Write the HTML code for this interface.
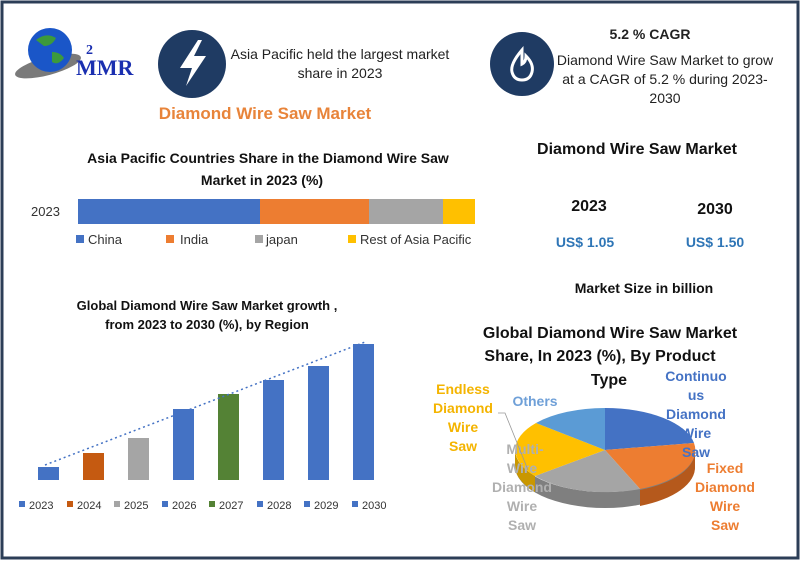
<!DOCTYPE html>
<html><head><meta charset="utf-8"><style>
html,body{margin:0;padding:0;background:#fff}
body{width:800px;height:560px;overflow:hidden;font-family:"Liberation Sans",sans-serif}
</style></head><body>
<svg width="800" height="560" viewBox="0 0 800 560" xmlns="http://www.w3.org/2000/svg" font-family="Liberation Sans, sans-serif">
<rect x="2" y="2" width="796" height="556" fill="#fff" stroke="#2c3e57" stroke-width="3"/>
<!-- logo -->
<ellipse cx="48" cy="66" rx="34" ry="9" fill="#7a7a7a" transform="rotate(-15 48 66)"/>
<circle cx="50" cy="50" r="22" fill="#1a56c8"/>
<path d="M36 40 q10 -8 20 -2 q-4 8 -12 8 z M52 52 q8 0 12 6 q-6 8 -12 4z" fill="#3c9a3c"/>
<text x="76" y="75" font-family="Liberation Serif, serif" font-weight="bold" font-size="22" fill="#1a2fb0">MMR</text>
<text x="86" y="54" font-family="Liberation Serif, serif" font-weight="bold" font-size="14" fill="#1a2fb0">2</text>
<!-- icon 1 -->
<circle cx="192" cy="64" r="34" fill="#1f3b63"/>
<path d="M198 40 L180 68 L192 68 L186 86 L206 56 L194 56 L202 40 Z" fill="#fff"/>
<text x="340" y="59" font-size="14" text-anchor="middle" fill="#222">Asia Pacific held the largest market</text>
<text x="340" y="78" font-size="14" text-anchor="middle" fill="#222">share in 2023</text>
<text x="265" y="119" font-size="17" font-weight="bold" text-anchor="middle" fill="#e8843a">Diamond Wire Saw Market</text>
<!-- icon 2 -->
<circle cx="522" cy="64" r="32" fill="#1f3b63"/>
<path d="M522 50 q-12 14 -10 22 q2 8 10 8 q8 0 10 -8 q2 -8 -6 -16 q0 6 -4 8 q0 -8 0 -14z" fill="none" stroke="#fff" stroke-width="3"/>
<text x="650" y="39" font-size="14" font-weight="bold" text-anchor="middle" fill="#222">5.2 % CAGR</text>
<text x="665" y="65" font-size="14" text-anchor="middle" fill="#222">Diamond Wire Saw Market to grow</text>
<text x="665" y="84" font-size="14" text-anchor="middle" fill="#222">at a CAGR of 5.2 % during 2023-</text>
<text x="665" y="103" font-size="14" text-anchor="middle" fill="#222">2030</text>
<!-- stacked bar -->
<text x="268" y="163" font-size="14" font-weight="bold" text-anchor="middle" fill="#111">Asia Pacific Countries Share in the  Diamond Wire Saw</text>
<text x="262" y="185" font-size="14" font-weight="bold" text-anchor="middle" fill="#111">Market in 2023 (%)</text>
<text x="31" y="216" font-size="13" fill="#333">2023</text>
<rect x="78" y="199" width="182" height="25" fill="#4472c4"/>
<rect x="260" y="199" width="109" height="25" fill="#ed7d31"/>
<rect x="369" y="199" width="74" height="25" fill="#a5a5a5"/>
<rect x="443" y="199" width="32" height="25" fill="#ffc000"/>
<g font-size="13" fill="#333">
<rect x="76" y="235" width="8" height="8" fill="#4472c4"/><text x="88" y="244">China</text>
<rect x="166" y="235" width="8" height="8" fill="#ed7d31"/><text x="180" y="244">India</text>
<rect x="255" y="235" width="8" height="8" fill="#a5a5a5"/><text x="266" y="244">japan</text>
<rect x="348" y="235" width="8" height="8" fill="#ffc000"/><text x="360" y="244">Rest of Asia Pacific</text>
</g>
<!-- right market -->
<text x="637" y="154" font-size="16" font-weight="bold" text-anchor="middle" fill="#111">Diamond Wire Saw Market</text>
<text x="589" y="211" font-size="16" font-weight="bold" text-anchor="middle" fill="#111">2023</text>
<text x="715" y="214" font-size="16" font-weight="bold" text-anchor="middle" fill="#111">2030</text>
<text x="585" y="247" font-size="14" font-weight="bold" text-anchor="middle" fill="#2e75b6">US$ 1.05</text>
<text x="715" y="247" font-size="14" font-weight="bold" text-anchor="middle" fill="#2e75b6">US$ 1.50</text>
<text x="644" y="293" font-size="14" font-weight="bold" text-anchor="middle" fill="#111">Market Size in billion</text>
<!-- growth bars -->
<text x="207" y="310" font-size="13" font-weight="bold" text-anchor="middle" fill="#111">Global Diamond Wire Saw Market growth ,</text>
<text x="207" y="329" font-size="13" font-weight="bold" text-anchor="middle" fill="#111">from 2023 to 2030 (%), by Region</text>
<g fill="#4472c4">
<rect x="38" y="467" width="21" height="13"/>
<rect x="83" y="453" width="21" height="27" fill="#c55a11"/>
<rect x="128" y="438" width="21" height="42" fill="#a5a5a5"/>
<rect x="173" y="409" width="21" height="71"/>
<rect x="218" y="394" width="21" height="86" fill="#548235"/>
<rect x="263" y="380" width="21" height="100"/>
<rect x="308" y="366" width="21" height="114"/>
<rect x="353" y="344" width="21" height="136"/>
</g>
<line x1="45" y1="465" x2="365" y2="342" stroke="#4472c4" stroke-width="1.5" stroke-dasharray="2 3"/>
<g font-size="11" fill="#333">
<rect x="19" y="501" width="6" height="6" fill="#4472c4"/><text x="29" y="509">2023</text>
<rect x="67" y="501" width="6" height="6" fill="#c55a11"/><text x="77" y="509">2024</text>
<rect x="114" y="501" width="6" height="6" fill="#a5a5a5"/><text x="124" y="509">2025</text>
<rect x="162" y="501" width="6" height="6" fill="#4472c4"/><text x="172" y="509">2026</text>
<rect x="209" y="501" width="6" height="6" fill="#548235"/><text x="219" y="509">2027</text>
<rect x="257" y="501" width="6" height="6" fill="#4472c4"/><text x="267" y="509">2028</text>
<rect x="304" y="501" width="6" height="6" fill="#4472c4"/><text x="314" y="509">2029</text>
<rect x="352" y="501" width="6" height="6" fill="#4472c4"/><text x="362" y="509">2030</text>
</g>
<!-- pie -->
<text x="610" y="338" font-size="16" font-weight="bold" text-anchor="middle" fill="#111">Global Diamond Wire Saw Market</text>
<text x="600" y="361" font-size="16" font-weight="bold" text-anchor="middle" fill="#111">Share, In 2023 (%), By Product</text>
<text x="609" y="385" font-size="16" font-weight="bold" text-anchor="middle" fill="#111">Type</text>
<!-- side -->
<path d="M515 450 A90 42 0 0 0 695 450 L695 466 A90 42 0 0 1 515 466 Z" fill="#7f7f7f"/>
<path d="M640 490 A90 42 0 0 0 695 450 L695 466 A90 42 0 0 1 640 506 Z" fill="#b5591c"/>
<path d="M515 450 A90 42 0 0 0 535 476 L535 492 A90 42 0 0 1 515 466Z" fill="#c99700"/>
<g>
<path d="M605 450 L605 408 A90 42 0 0 1 694 443 Z" fill="#4472c4"/>
<path d="M605 450 L694 443 A90 42 0 0 1 640 489 Z" fill="#ed7d31"/>
<path d="M605 450 L640 489 A90 42 0 0 1 535 476 Z" fill="#a5a5a5"/>
<path d="M605 450 L535 476 A90 42 0 0 1 536 423 Z" fill="#ffc000"/>
<path d="M605 450 L536 423 A90 42 0 0 1 605 408 Z" fill="#5b9bd5"/>
</g>
<g font-size="14" font-weight="bold" text-anchor="middle">
<text x="463" y="394" fill="#f4b400">Endless</text>
<text x="463" y="413" fill="#f4b400">Diamond</text>
<text x="463" y="432" fill="#f4b400">Wire</text>
<text x="463" y="451" fill="#f4b400">Saw</text>
<text x="535" y="406" fill="#6fa0d8">Others</text>
<text x="696" y="381" fill="#4472c4">Continuo</text>
<text x="696" y="400" fill="#4472c4">us</text>
<text x="696" y="419" fill="#4472c4">Diamond</text>
<text x="696" y="438" fill="#4472c4">Wire</text>
<text x="696" y="457" fill="#4472c4">Saw</text>
<text x="725" y="473" fill="#ed7d31">Fixed</text>
<text x="725" y="492" fill="#ed7d31">Diamond</text>
<text x="725" y="511" fill="#ed7d31">Wire</text>
<text x="725" y="530" fill="#ed7d31">Saw</text>
<text x="525" y="454" fill="#b0b0b0">Multi-</text>
<text x="522" y="473" fill="#b0b0b0">Wire</text>
<text x="522" y="492" fill="#b0b0b0">Diamond</text>
<text x="522" y="511" fill="#b0b0b0">Wire</text>
<text x="522" y="530" fill="#b0b0b0">Saw</text>
</g>
<polyline points="498,413 505,413 528,470" fill="none" stroke="#999" stroke-width="0.8"/>
</svg>
</body></html>
